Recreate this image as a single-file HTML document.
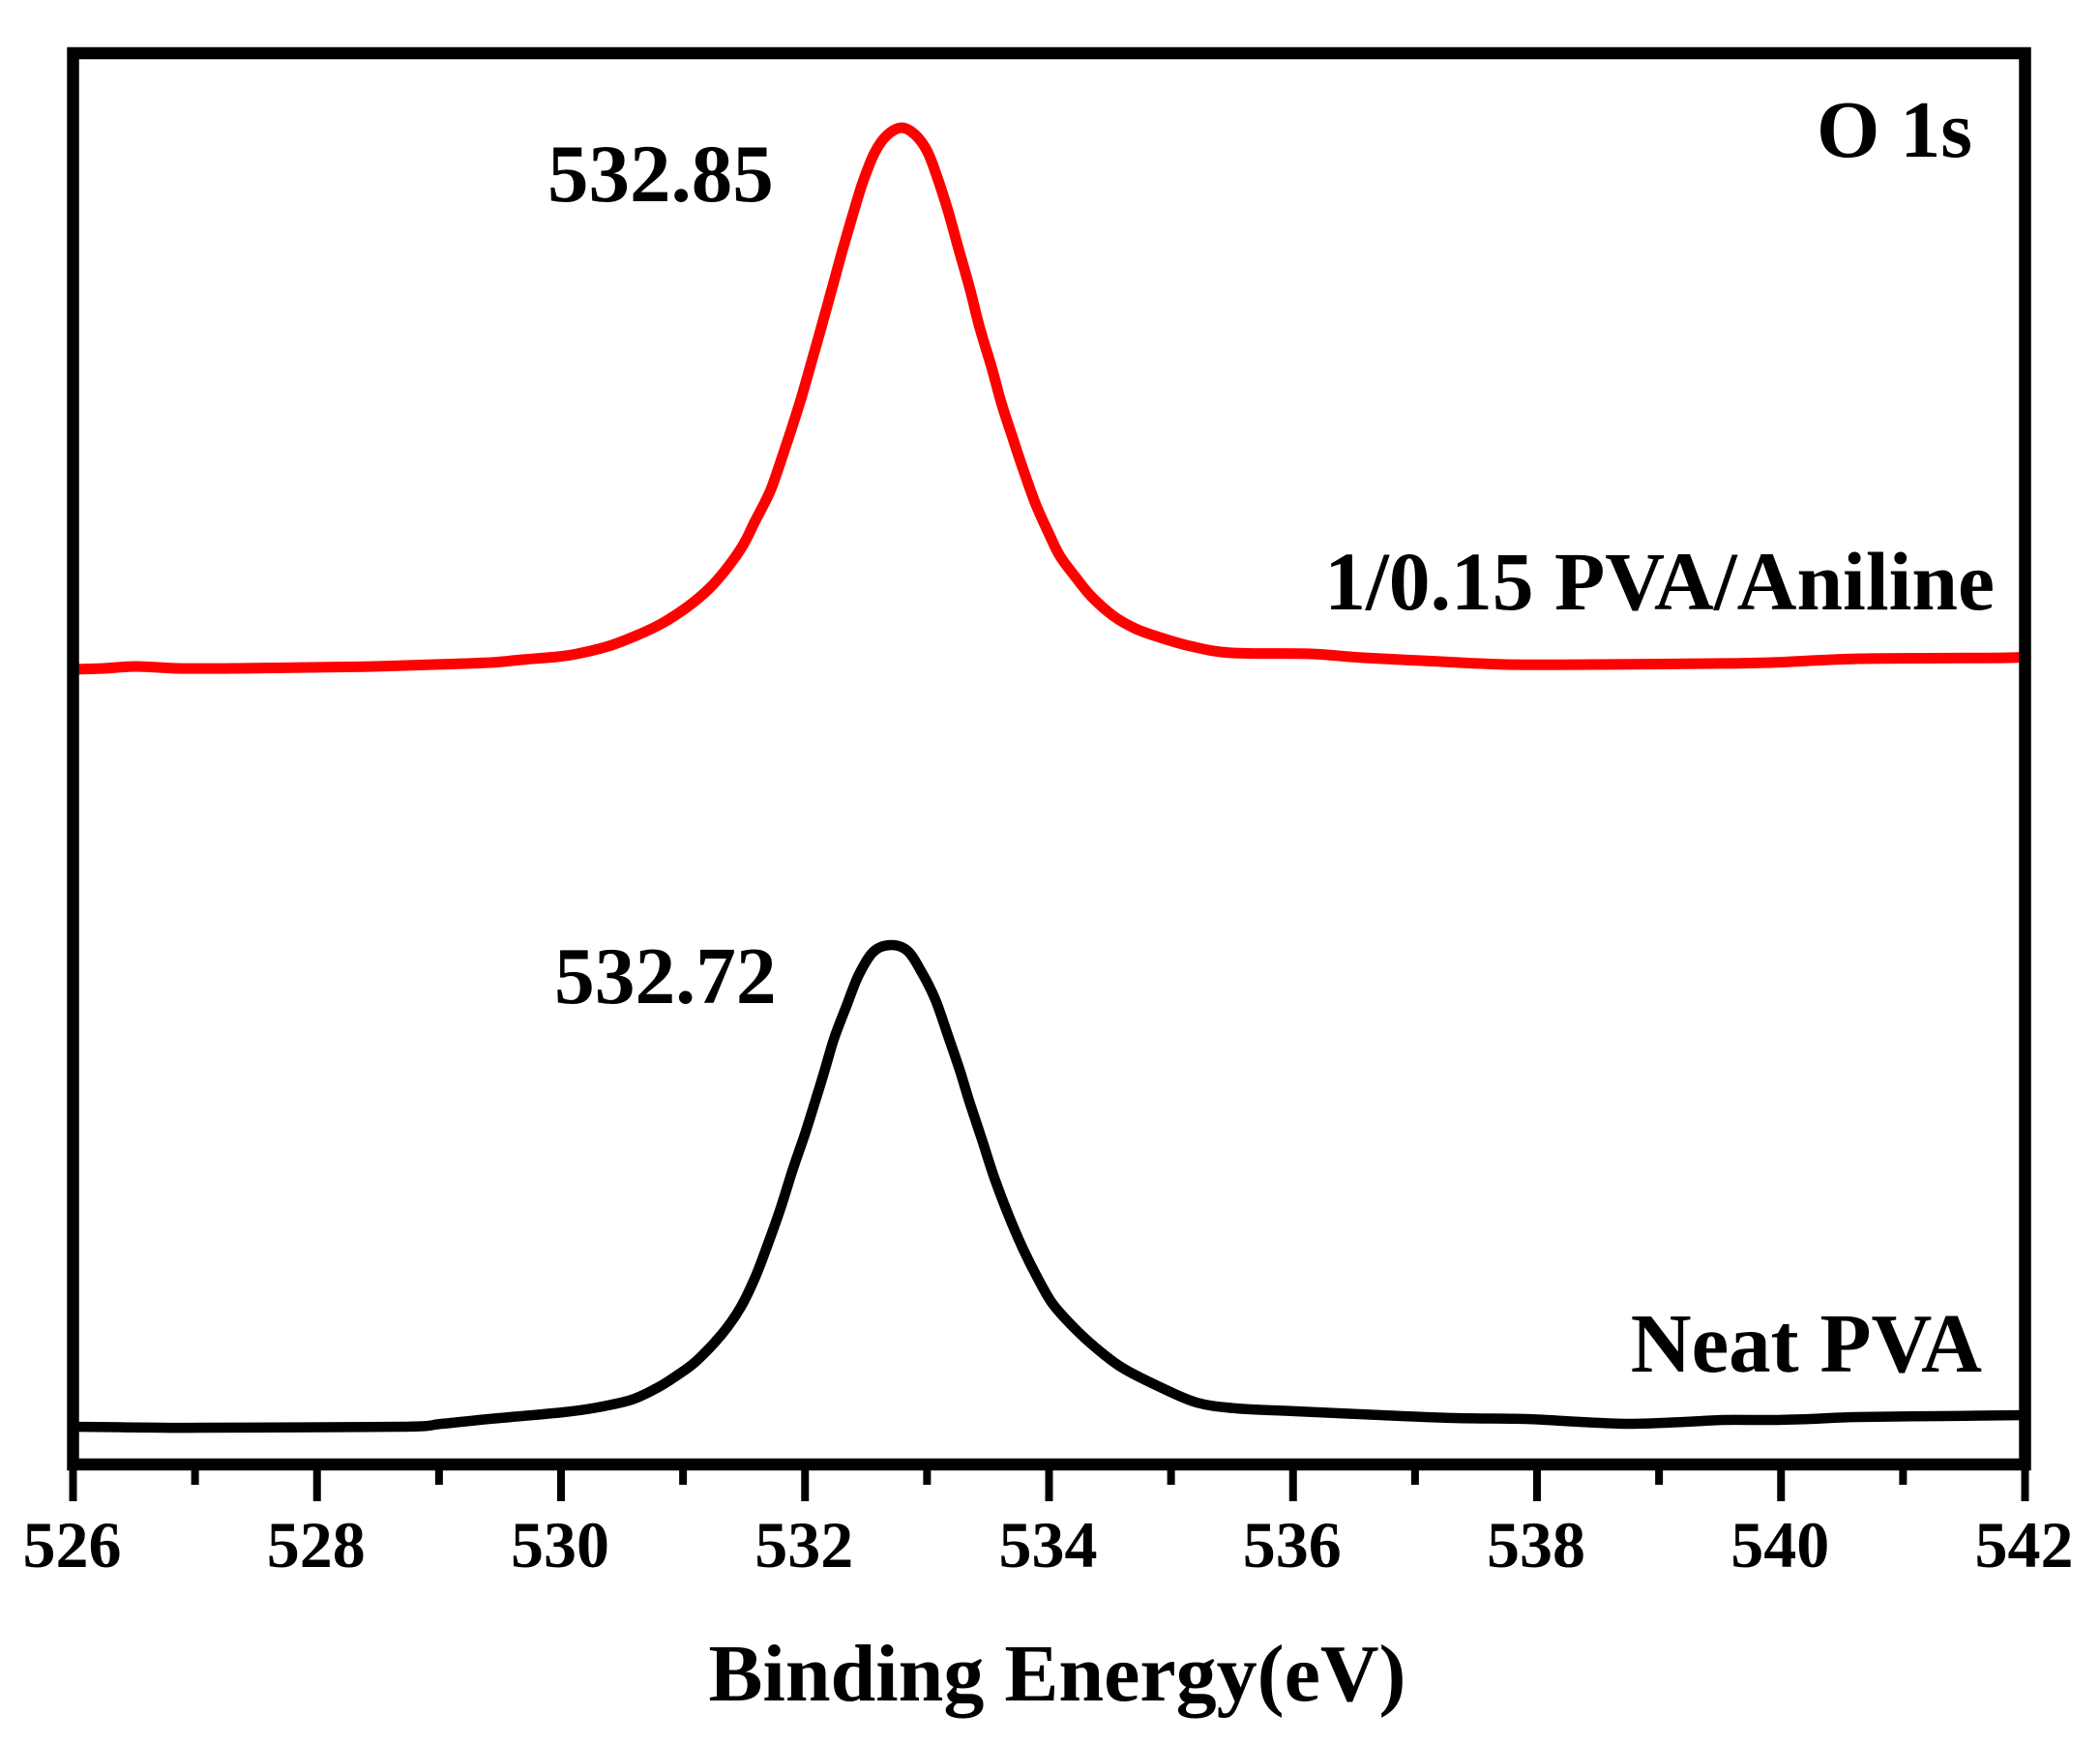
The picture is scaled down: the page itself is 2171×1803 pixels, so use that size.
<!DOCTYPE html>
<html lang="en">
<head>
<meta charset="utf-8">
<title>O 1s XPS spectra</title>
<style>
  html, body { margin: 0; padding: 0; background: #fff; }
  svg { display: block; }
  text { font-family: "Liberation Serif", serif; font-weight: bold; fill: #000; }
</style>
</head>
<body>
<svg id="chart" xmlns="http://www.w3.org/2000/svg" width="2171" height="1803" viewBox="0 0 2171 1803">
  <rect x="0" y="0" width="2171" height="1803" fill="#fff"/>
  <g id="series"></g>
  <rect x="75.5" y="55" width="2018" height="1459" fill="none" stroke="#000" stroke-width="12.5"/>
  <g id="ticks"></g>
  <g id="tick-labels" font-size="68" text-anchor="middle"></g>
  <text x="1093" y="1758" font-size="84" text-anchor="middle">Binding Energy(eV)</text>
  <text x="2039" y="162" font-size="84" text-anchor="end">O 1s</text>
  <text x="2062" y="630" font-size="85.6" text-anchor="end">1/0.15 PVA/Aniline</text>
  <text x="2049" y="1418" font-size="87" text-anchor="end">Neat PVA</text>
  <text x="566" y="208" font-size="85">532.85</text>
  <text x="573" y="1037" font-size="83.5">532.72</text>
</svg>
<script>
const majorTicks = [526, 528, 530, 532, 534, 536, 538, 540, 542];
const minorTicks = [527, 529, 531, 533, 535, 537, 539, 541];
const tickLabels = ["526", "528", "530", "532", "534", "536", "538", "540", "542"];

const anilineEnergy = [526.00,526.25,526.52,526.86,527.31,527.94,528.47,528.97,529.42,529.68,529.97,530.13,530.39,530.60,530.82,531.03,531.21,531.35,531.49,531.59,531.71,531.79,531.88,531.97,532.04,532.11,532.18,532.25,532.32,532.41,532.48,532.57,532.67,532.79,532.90,533.00,533.08,533.17,533.26,533.35,533.43,533.53,533.61,533.70,533.79,533.89,534.00,534.09,534.22,534.35,534.53,534.71,534.91,535.16,535.50,536.14,536.58,537.22,537.74,538.45,539.43,539.92,540.65,541.86,542.00];
const anilineIntensity = [822,823,825,823,823,824,825,827,829,832,835,838,846,856,869,886,905,925,950,975,1005,1033,1067,1103,1134,1165,1197,1229,1261,1300,1328,1356,1374,1382,1375,1358,1332,1297,1256,1216,1176,1134,1097,1062,1028,993,962,939,917,897,877,864,855,846,839,838,834,830,827,827,828,829,833,834,836];

const neatEnergy = [526.00,526.74,527.05,528.69,529.02,529.41,530.02,530.30,530.58,530.80,530.95,531.11,531.32,531.47,531.59,531.69,531.80,531.90,532.00,532.08,532.16,532.24,532.34,532.44,532.56,532.70,532.84,532.96,533.07,533.17,533.27,533.35,533.45,533.55,533.67,533.79,533.91,534.03,534.20,534.38,534.60,534.91,535.21,535.53,536.02,536.72,537.32,537.91,538.35,538.77,539.21,539.53,539.94,540.24,540.62,541.32,542.00];
const neatIntensity = [39,38,38,39,42,47,54,59,67,80,92,107,135,162,193,226,265,305,342,374,407,441,474,506,530,537,531,508,480,444,407,374,336,297,257,222,192,166,142,121,100,80,64,58,55,51,48,47,44,42,44,46,46,47,49,50,51];

const NS = "http://www.w3.org/2000/svg";
function xScale(v) { return 75.5 + (v - 526) * (2018 / 16); }
function yScale(v) { return 1514 - v; }

function linePath(xs, ys) {
  const px = xs.map(xScale);
  const py = ys.map(yScale);
  let d = "M" + px[0].toFixed(1) + " " + py[0].toFixed(1);
  for (let i = 0; i < px.length - 1; i++) {
    const a = Math.max(i - 1, 0);
    const b = Math.min(i + 2, px.length - 1);
    const c1x = px[i] + (px[i + 1] - px[a]) / 6;
    const c1y = py[i] + (py[i + 1] - py[a]) / 6;
    const c2x = px[i + 1] - (px[b] - px[i]) / 6;
    const c2y = py[i + 1] - (py[b] - py[i]) / 6;
    d += " C" + c1x.toFixed(1) + " " + c1y.toFixed(1) + " " + c2x.toFixed(1) + " " + c2y.toFixed(1) + " " + px[i + 1].toFixed(1) + " " + py[i + 1].toFixed(1);
  }
  return d;
}

const seriesLayer = document.getElementById("series");

const anilineLine = document.createElementNS(NS, "path");


anilineLine.setAttribute("d", linePath(anilineEnergy, anilineIntensity));
anilineLine.setAttribute("fill", "none");
anilineLine.setAttribute("stroke", "#ff0000");
anilineLine.setAttribute("stroke-width", "11");
anilineLine.setAttribute("stroke-linejoin", "round");
seriesLayer.appendChild(anilineLine);

const neatLine = document.createElementNS(NS, "path");


neatLine.setAttribute("d", linePath(neatEnergy, neatIntensity));
neatLine.setAttribute("fill", "none");
neatLine.setAttribute("stroke", "#000000");
neatLine.setAttribute("stroke-width", "10.5");
neatLine.setAttribute("stroke-linejoin", "round");
seriesLayer.appendChild(neatLine);

const tickLayer = document.getElementById("ticks");
majorTicks.forEach(function (t) {
  const tick = document.createElementNS(NS, "line");
  
  
  tick.setAttribute("x1", xScale(t));
  tick.setAttribute("x2", xScale(t));
  tick.setAttribute("y1", 1514);
  tick.setAttribute("y2", 1552);
  tick.setAttribute("stroke", "#000");
  tick.setAttribute("stroke-width", "8");
  tickLayer.appendChild(tick);
});
minorTicks.forEach(function (t) {
  const tick = document.createElementNS(NS, "line");
  
  
  tick.setAttribute("x1", xScale(t));
  tick.setAttribute("x2", xScale(t));
  tick.setAttribute("y1", 1514);
  tick.setAttribute("y2", 1535);
  tick.setAttribute("stroke", "#000");
  tick.setAttribute("stroke-width", "8");
  tickLayer.appendChild(tick);
});

const labelLayer = document.getElementById("tick-labels");
majorTicks.forEach(function (t, i) {
  const label = document.createElementNS(NS, "text");
  
  
  label.setAttribute("x", xScale(t) - 1);
  label.setAttribute("y", 1620);
  label.textContent = tickLabels[i];
  labelLayer.appendChild(label);
});
</script>
</body>
</html>
